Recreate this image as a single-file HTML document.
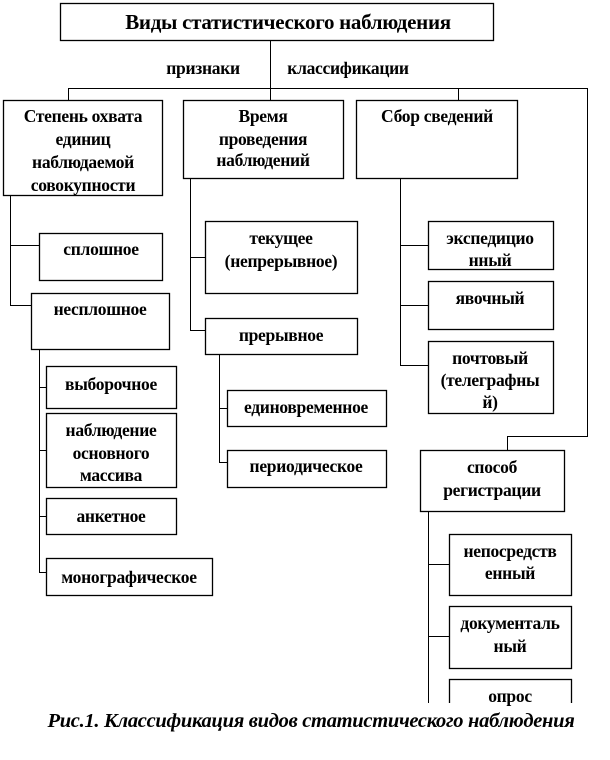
<!DOCTYPE html>
<html><head><meta charset="utf-8"><style>
html,body{margin:0;padding:0;background:#fff;}
svg text{font-family:"Liberation Serif","Noto Serif CJK SC",serif;font-weight:bold;font-size:17.5px;fill:#000;text-anchor:middle;letter-spacing:-0.3px;}
</style></head><body>
<svg width="610" height="755" xmlns="http://www.w3.org/2000/svg">
<g fill="#fff" stroke="#000" stroke-width="1.3">
<rect x="60.5" y="3.5" width="433" height="37"/>
<rect x="3.5" y="100.5" width="159" height="95"/>
<rect x="183.5" y="100.5" width="160" height="78"/>
<rect x="356.5" y="100.5" width="161" height="78"/>
<rect x="39.5" y="233.5" width="123" height="47"/>
<rect x="31.5" y="293.5" width="138" height="56"/>
<rect x="46.5" y="366.5" width="130" height="42"/>
<rect x="46.5" y="413.5" width="130" height="74"/>
<rect x="46.5" y="498.5" width="130" height="36"/>
<rect x="46.5" y="558.5" width="166" height="37"/>
<rect x="205.5" y="221.5" width="152" height="72"/>
<rect x="205.5" y="318.5" width="152" height="36"/>
<rect x="227.5" y="390.5" width="159" height="36"/>
<rect x="227.5" y="450.5" width="159" height="37"/>
<rect x="428.5" y="221.5" width="125" height="48"/>
<rect x="428.5" y="281.5" width="125" height="48"/>
<rect x="428.5" y="341.5" width="125" height="72"/>
<rect x="420.5" y="450.5" width="144" height="61"/>
<rect x="449.5" y="534.5" width="122" height="61"/>
<rect x="449.5" y="606.5" width="122" height="62"/>
<rect x="449.5" y="679.5" width="122" height="30"/>
</g>
<rect x="420" y="703" width="190" height="20" fill="#fff"/>
<g fill="none" stroke="#000" stroke-width="1">
<path d="M270.5 40V100M68.5 100V88.5H587.5V436.5H507.5V450M458.5 88V100"/>
<path d="M10.5 195V305.5H31M10.5 245.5H39"/>
<path d="M39.5 349V572.5H46M39.5 387.5H46M39.5 450.5H46M39.5 516.5H46"/>
<path d="M190.5 178V330.5H205M190.5 257.5H205"/>
<path d="M219.5 354V462.5H227M219.5 408.5H227"/>
<path d="M400.5 178V365.5H428M400.5 245.5H428M400.5 305.5H428"/>
<path d="M428.5 511V703M428.5 564.5H449M428.5 636.5H449"/>
</g>
<text x="288" y="29" style="font-size:21px">Виды статистического наблюдения</text>
<text x="203" y="74">признаки</text>
<text x="348" y="74">классификации</text>
<text x="83" y="122">Степень охвата</text>
<text x="83" y="145">единиц</text>
<text x="83" y="168">наблюдаемой</text>
<text x="83" y="191">совокупности</text>
<text x="263" y="122">Время</text>
<text x="263" y="145">проведения</text>
<text x="263" y="166">наблюдений</text>
<text x="437" y="122">Сбор сведений</text>
<text x="101" y="255">сплошное</text>
<text x="100" y="315">несплошное</text>
<text x="111" y="390">выборочное</text>
<text x="111" y="436">наблюдение</text>
<text x="111" y="459">основного</text>
<text x="111" y="481">массива</text>
<text x="111" y="522">анкетное</text>
<text x="129" y="583">монографическое</text>
<text x="281" y="244">текущее</text>
<text x="281" y="267">(непрерывное)</text>
<text x="281" y="341">прерывное</text>
<text x="306" y="413">единовременное</text>
<text x="306" y="472">периодическое</text>
<text x="490" y="244">экспедицио</text>
<text x="490" y="266">нный</text>
<text x="490" y="304">явочный</text>
<text x="490" y="364">почтовый</text>
<text x="490" y="386">(телеграфны</text>
<text x="490" y="408">й)</text>
<text x="492" y="473">способ</text>
<text x="492" y="496">регистрации</text>
<text x="510" y="557">непосредств</text>
<text x="510" y="579">енный</text>
<text x="510" y="629">документаль</text>
<text x="510" y="652">ный</text>
<text x="510" y="702">опрос</text>
<text x="311" y="727" style="font-style:italic;font-size:20.5px">Рис.1. Классификация видов статистического наблюдения</text>
</svg>
</body></html>
